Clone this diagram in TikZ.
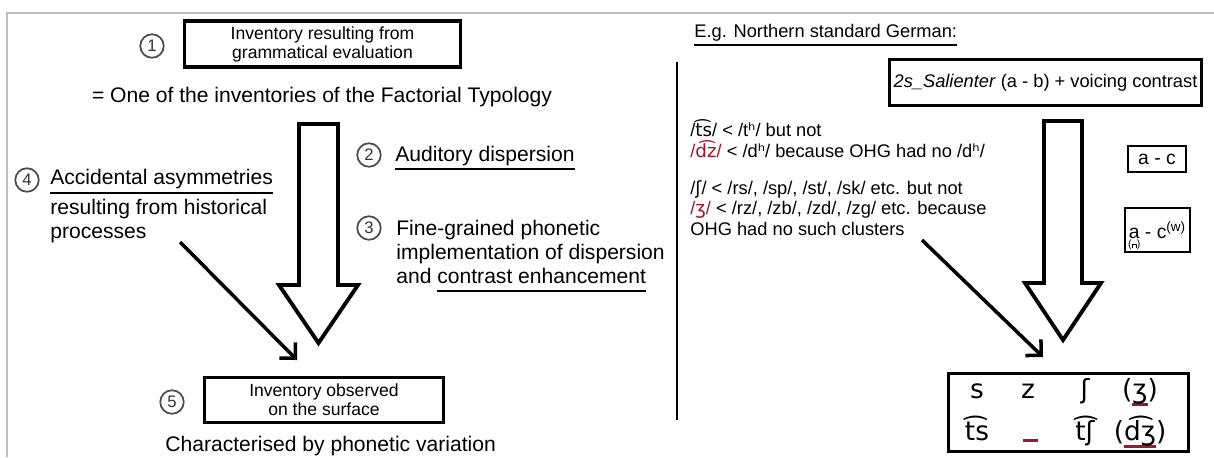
\documentclass[tikz,border=0pt]{standalone}
\usepackage{fontspec}
\setmainfont{Liberation Sans}
\newfontfamily\ipa{DejaVu Sans}
\usetikzlibrary{arrows.meta}
\definecolor{ohgred}{RGB}{155,25,45}
\lineskiplimit=-10pt
\newcommand{\undl}[2][black]{\setbox0\hbox{#2}\rlap{\smash{\color{#1}\rule[-5pt]{\wd0}{1.1pt}}}\box0\relax}
\newcommand{\redul}[1]{\setbox0\hbox{#1}\rlap{\smash{\color{ohgred}\rule[-4.5pt]{\wd0}{1.4pt}}}\box0\relax}
\newcommand{\subdiac}[2]{\setbox2\hbox{#1}\rlap{\hbox to \wd2{\hss\smash{\raisebox{-5.5pt}{\fontsize{6}{6}\selectfont#2}}\hss}}\box2\relax}
\newcommand{\bridge}{\makebox[3pt][l]{\rule{0.6pt}{2.2pt}\hspace{1.8pt}\rule{0.6pt}{2.2pt}}\hspace{-3pt}\rule[1.5pt]{3pt}{0.9pt}}

\begin{document}
\begin{tikzpicture}[x=0.02cm,y=-0.02cm,
  bigbox/.style={draw, line width=2.2pt, inner sep=0pt, align=center, font=\fontsize{10}{10.8}\selectfont},
  smallbox/.style={draw, line width=1.4pt, inner sep=0pt, font=\fontsize{11}{12}\selectfont},
  numcirc/.style={circle, draw=black!70, line width=1pt, minimum size=0.47cm, inner sep=0pt, text=black!80, font=\fontsize{9.5}{9.5}\selectfont},
  bigtext/.style={inner sep=0pt, align=left, font=\fontsize{12}{13.6}\selectfont},
  smalltext/.style={inner sep=0pt, align=left, font=\fontsize{10.4}{11.4}\selectfont},
  ipasym/.style={inner sep=0pt, anchor=base, font=\fontsize{15}{15}\ipa},
  bigarrow/.style={draw, line width=2.2pt, line join=miter},
  histarrow/.style={line width=2pt, -{Straight Barb[angle=90:9pt]}}]
\useasboundingbox (0,0) rectangle (1214,457);
\draw[black!25, line width=0.6pt] (7,457) -- (7,13) -- (1214,13);

% left: general model
\node[numcirc] (c1) at (152,46) {1};
\node[bigbox, minimum width=5.52cm, minimum height=0.92cm] (gram) at (322.5,44) {Inventory resulting from\\grammatical evaluation};
\node[bigtext, anchor=base] (fact) at (322,102) {= One of the inventories of the Factorial Typology};
\draw[bigarrow] (299,124) -- (338,124) -- (338,285) -- (358,285) -- (318.5,343) -- (279,285) -- (299,285) -- cycle;
\node[numcirc] (c2) at (369,155) {2};
\node[bigtext, anchor=base west] (disp) at (395,161) {\undl{Auditory dispersion}};
\node[numcirc] (c3) at (369,228) {3};
\node[bigtext, anchor=base west] (fine) at (396,283) {Fine-grained phonetic\\implementation of dispersion\\and \undl{contrast enhancement}};
\node[numcirc] (c4) at (27,180) {4};
\node[bigtext, anchor=base west] (acc) at (50,238) {\undl{Accidental asymmetries}\\[3pt]resulting from historical\\processes};
\coordinate (histL) at (180,242);
\coordinate (histLtip) at (297,360);
\draw[histarrow] (histL) -- (histLtip);
\node[numcirc] (c5) at (172,402) {5};
\node[bigbox, minimum width=4.78cm, minimum height=0.9cm] (surf) at (324,400) {Inventory observed\\on the surface};
\node[bigtext, anchor=base west] (var) at (165,451) {Characterised by phonetic variation};

\draw[line width=1.1pt] (677,62) -- (677,420);

% right: German
\node[smalltext, anchor=base west] (nsg) at (694,37) {\undl{E.g. Northern standard German:}};
\node[bigbox, minimum width=6.24cm, minimum height=0.92cm, font=\fontsize{10.4}{11}\selectfont] (sal) at (1045.5,82.5) {\textit{2s\_Salienter} (a - b) + voicing contrast};
\draw[bigarrow] (1044,121) -- (1082,121) -- (1082,283) -- (1101,283) -- (1063,340) -- (1025,283) -- (1044,283) -- cycle;
\node[smalltext, anchor=base west] (ex1) at (690,157) {/{\ipa t͡s}/ < /t{\ipa ʰ}/ but not\\{\color{ohgred}/{\ipa d͡z}/} < /d{\ipa ʰ}/ because OHG had no /d{\ipa ʰ}/};
\node[smalltext, anchor=base west] (ex2) at (690,235) {/{\ipa ʃ}/ < /rs/, /sp/, /st/, /sk/ etc. but not\\{\color{ohgred}/{\ipa ʒ}/} < /rz/, /zb/, /zd/, /zg/ etc. because\\OHG had no such clusters};
\node[smallbox, minimum width=1.16cm, minimum height=0.52cm] (ac) at (1157,159) {a - c};
\node[smallbox, minimum width=1.3cm, minimum height=0.88cm] (acw) at (1157.5,230) {\subdiac{a}{(\bridge)} - c\textsuperscript{(w)}};
\coordinate (ohgR) at (922,240);
\coordinate (ohgRtip) at (1043,357);
\draw[histarrow] (ohgR) -- (ohgRtip);
\node[bigbox, minimum width=4.8cm, minimum height=1.56cm] (surfde) at (1068.5,412.5) {};
\node[ipasym] (s) at (977,398) {s};
\node[ipasym] (z) at (1028,398) {z};
\node[ipasym] (sh) at (1085,398) {ʃ};
\node[ipasym] (zh) at (1140,398) {(\redul{ʒ})};
\node[ipasym] (ts) at (977,440) {t͡s};
\node[ipasym] (dz) at (1030,440) {{\color{ohgred}\rule[-1pt]{0.3cm}{1.4pt}}};
\node[ipasym] (tsh) at (1085,440) {t͡ʃ};
\node[ipasym] (dzh) at (1140,440) {(\redul{d͡ʒ})};
\end{tikzpicture}
\end{document}
